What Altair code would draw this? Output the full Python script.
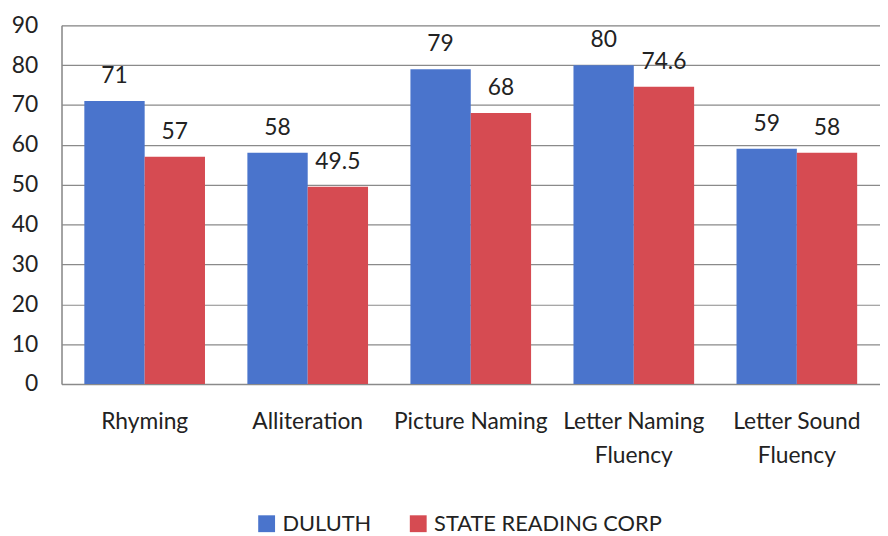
import altair as alt
import pandas as pd

categories = ["Rhyming", "Alliteration", "Picture Naming", "Letter Naming|Fluency", "Letter Sound|Fluency"]
series = ["DULUTH", "STATE READING CORP"]
duluth = [71, 58, 79, 80, 59]
state = [57, 49.5, 68, 74.6, 58]
duluth_labels = ["71", "58", "79", "80", "59"]
state_labels = ["57", "49.5", "68", "74.6", "58"]

rows = []
for c, v, l in zip(categories, duluth, duluth_labels):
    rows.append({"cat": c, "series": series[0], "value": v, "label": l})
for c, v, l in zip(categories, state, state_labels):
    rows.append({"cat": c, "series": series[1], "value": v, "label": l})
df = pd.DataFrame(rows)

FONT = "Lato"
FS = 23

x = alt.X("cat:N", sort=categories, title=None,
          scale=alt.Scale(paddingInner=0.26, paddingOuter=0.14),
          axis=alt.Axis(labelExpr="split(datum.label, '|')", labelAngle=0,
                        labelFontSize=FS, labelFont=FONT, labelColor="#222222",
                        labelPadding=27, labelLineHeight=34, ticks=False,
                        domainColor="#8a8a8a", domainWidth=1.5, grid=False,
                        labelBaseline="top"))
y = alt.Y("value:Q", title=None,
          scale=alt.Scale(domain=[0, 90], nice=False),
          axis=alt.Axis(values=list(range(0, 100, 10)), labelFontSize=FS, labelFont=FONT,
                        labelColor="#222222", labelPadding=24, ticks=False,
                        gridColor="#8a8a8a", gridWidth=1.2, domainColor="#8a8a8a",
                        domainWidth=1.5))
xo = alt.XOffset("series:N", sort=series)
color = alt.Color("series:N", sort=series,
                  scale=alt.Scale(domain=series, range=["#4A74CC", "#D64B52"]),
                  legend=alt.Legend(title=None, orient="none", direction="horizontal",
                                    legendX=196, legendY=492, symbolType="square",
                                    symbolSize=289, symbolStrokeWidth=0,
                                    labelFontSize=22, labelFont=FONT, labelColor="#222222",
                                    labelLimit=400, columnPadding=36, labelOffset=5))

bars = alt.Chart(df).mark_bar(opacity=1).encode(x=x, y=y, xOffset=xo, color=color)
texts = alt.Chart(df).mark_text(fontSize=FS, font=FONT, color="#222222", baseline="bottom", dy=-13).encode(
    x=alt.X("cat:N", sort=categories), y="value:Q", xOffset=xo, text="label:N")

chart = alt.layer(bars, texts).properties(
    width=826, height=362,
    autosize=alt.AutoSizeParams(type="none"),
    padding={"left": 54, "top": 15, "right": 0, "bottom": 158},
).configure_view(stroke=None).configure(background="white")

chart.save("out.html", embed_options={"renderer": "svg", "actions": False})
